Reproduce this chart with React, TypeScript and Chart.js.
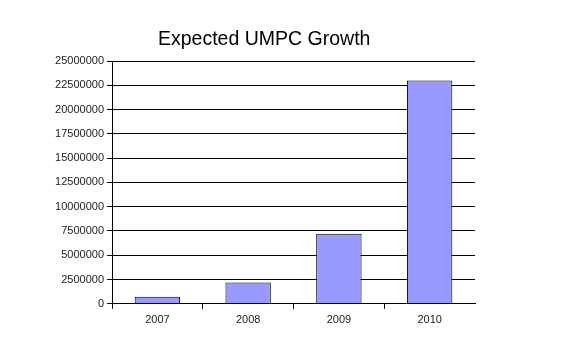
import React, { useEffect, useRef } from "react";
import { Chart, registerables } from "chart.js";

Chart.register(...registerables);

const titleText = "Expected UMPC Growth";
const categories = ["2007", "2008", "2009", "2010"];
const growthValues = [720000, 2200000, 7200000, 23000000];
const yMax = 25000000;
const yStep = 2500000;

export default function App() {
  const canvasRef = useRef<HTMLCanvasElement | null>(null);

  useEffect(() => {
    document.body.style.margin = "0";
    const canvas = canvasRef.current;
    if (!canvas) return;
    const chart = new Chart(canvas, {
      type: "bar",
      data: {
        labels: categories,
        datasets: [
          {
            data: growthValues,
            backgroundColor: "#9999FF",
            borderColor: "#000000",
            borderWidth: 1,
            categoryPercentage: 1,
            barPercentage: 0.5,
          },
        ],
      },
      options: {
        responsive: false,
        animation: false,
        devicePixelRatio: 1,
        layout: { padding: { left: 0, right: 101, top: 61, bottom: 28 } },
        plugins: {
          legend: { display: false },
          title: { display: false },
          tooltip: { enabled: false },
        },
        scales: {
          x: {
            offset: true,
            grid: {
              display: true,
              offset: true,
              drawOnChartArea: false,
              drawTicks: true,
              tickLength: 5,
              color: (ctx: any) =>
                ctx.type !== "tick" || ctx.index >= categories.length
                  ? "rgba(0,0,0,0)"
                  : "#000000",
            },
            border: { display: true, color: "#000000", width: 1 },
            ticks: {
              color: "#222222",
              font: { family: "Liberation Sans, Arial, sans-serif", size: 11 },
              padding: 5,
            },
          },
          y: {
            min: 0,
            max: yMax,
            afterFit: (scale: any) => {
              scale.width = 112;
            },
            grid: {
              color: "#000000",
              lineWidth: 1,
              tickLength: 5,
              drawTicks: true,
            },
            border: { display: true, color: "#000000", width: 1 },
            ticks: {
              stepSize: yStep,
              color: "#222222",
              padding: 3,
              font: { family: "Liberation Sans, Arial, sans-serif", size: 11 },
              callback: (v: any) => String(v),
            },
          },
        },
      },
    });
    return () => chart.destroy();
  }, []);

  return (
    <div style={{ position: "relative", width: 576, height: 360, background: "#ffffff" }}>
      <canvas ref={canvasRef} width={576} height={360} style={{ display: "block" }} />
      <div
        style={{
          position: "absolute",
          left: 158,
          top: 28,
          fontFamily: "Liberation Sans, Arial, sans-serif",
          fontSize: "19.5px",
          lineHeight: "20px",
          color: "#000000",
          whiteSpace: "nowrap",
        }}
      >
        {titleText}
      </div>
    </div>
  );
}
